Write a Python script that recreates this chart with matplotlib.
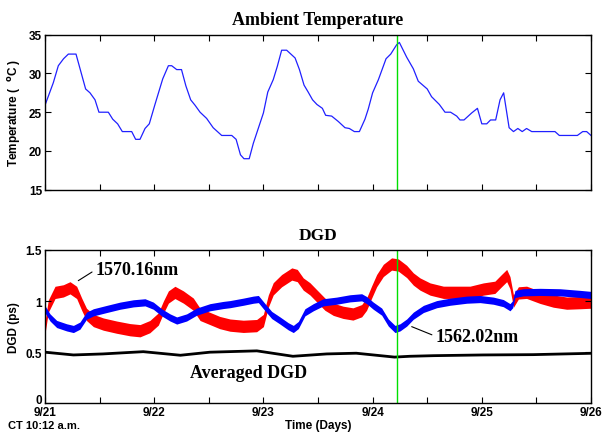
import matplotlib
matplotlib.use("Agg")
import matplotlib.pyplot as plt
import matplotlib.transforms as mtransforms
import numpy as np

# ---- data (days since 9/21 00:00) ----
temp_day = [0.0, 0.076, 0.122, 0.17, 0.214, 0.284, 0.327, 0.372, 0.412, 0.458, 0.494, 0.58, 0.62, 0.665,
            0.708, 0.794, 0.83, 0.87, 0.916, 0.955, 1.007, 1.078, 1.13, 1.16, 1.206, 1.25, 1.29, 1.334,
            1.374, 1.42, 1.48, 1.54, 1.618, 1.71, 1.75, 1.79, 1.822, 1.87, 1.908, 2.0, 2.04, 2.09, 2.127,
            2.167, 2.213, 2.29, 2.33, 2.372, 2.41, 2.45, 2.49, 2.54, 2.57, 2.625, 2.686, 2.747, 2.787,
            2.833, 2.879, 2.93, 2.96, 3.0, 3.053, 3.123, 3.166, 3.22, 3.245, 3.312, 3.373, 3.418, 3.5,
            3.54, 3.611, 3.663, 3.714, 3.77, 3.8, 3.837, 3.907, 3.96, 4.0, 4.045, 4.08, 4.127, 4.167,
            4.2, 4.25, 4.29, 4.33, 4.37, 4.41, 4.457, 4.67, 4.71, 4.875, 4.924, 4.96, 5.0]
temp_c = [25.9, 28.8, 31.0, 31.9, 32.5, 32.5, 30.3, 28.0, 27.5, 26.6, 25.0, 25.0, 24.1, 23.5,
          22.5, 22.5, 21.5, 21.5, 22.9, 23.5, 26.0, 29.3, 31.0, 31.0, 30.5, 30.5, 28.4, 26.6,
          25.9, 25.0, 24.2, 23.0, 22.0, 22.0, 21.5, 19.5, 19.0, 19.0, 21.0, 24.9, 27.6, 29.2, 30.9,
          33.0, 33.0, 32.0, 30.5, 28.5, 27.6, 26.6, 26.0, 25.5, 24.6, 24.5, 23.8, 23.0, 22.9,
          22.5, 22.5, 24.1, 25.4, 27.5, 29.2, 31.9, 32.5, 33.7, 34.0, 32.1, 30.6, 29.0, 28.0,
          27.0, 26.0, 25.0, 25.0, 24.5, 24.0, 24.0, 24.9, 25.5, 23.5, 23.5, 24.0, 24.0, 26.6,
          27.5, 23.0, 22.5, 22.9, 22.5, 22.9, 22.5, 22.5, 22.0, 22.0, 22.5, 22.5, 22.0]

red_day = [0.0, 0.03, 0.092, 0.168, 0.229, 0.29, 0.336, 0.38, 0.443, 0.534, 0.656, 0.778, 0.87, 0.96,
           1.038, 1.084, 1.13, 1.19, 1.267, 1.358, 1.42, 1.51, 1.60, 1.694, 1.816, 1.938, 2.0, 2.045,
           2.09, 2.167, 2.26, 2.31, 2.365, 2.426, 2.487, 2.563, 2.64, 2.73, 2.82, 2.9, 2.945, 2.99,
           3.037, 3.098, 3.174, 3.235, 3.312, 3.373, 3.434, 3.526, 3.648, 3.77, 3.892, 4.014, 4.12,
           4.18, 4.228, 4.258, 4.29, 4.335, 4.41, 4.533, 4.655, 4.777, 4.9, 5.0]
red_dgd = [0.74, 0.95, 1.085, 1.10, 1.13, 1.085, 0.97, 0.87, 0.81, 0.775, 0.745, 0.72, 0.71, 0.75,
           0.825, 0.94, 1.04, 1.085, 1.04, 0.97, 0.87, 0.83, 0.79, 0.765, 0.753, 0.76, 0.81, 1.0,
           1.12, 1.2, 1.265, 1.25, 1.167, 1.12, 1.053, 0.97, 0.92, 0.89, 0.874, 0.906, 0.97, 1.086,
           1.2, 1.30, 1.363, 1.353, 1.29, 1.216, 1.167, 1.118, 1.086, 1.086, 1.086, 1.118, 1.135,
           1.2, 1.25, 1.18, 1.0, 1.08, 1.086, 1.037, 1.0, 0.98, 0.985, 0.99]

blue_day = [0.0, 0.046, 0.107, 0.198, 0.26, 0.32, 0.38, 0.443, 0.565, 0.687, 0.809, 0.916, 0.992,
            1.068, 1.145, 1.206, 1.297, 1.389, 1.511, 1.633, 1.694, 1.816, 1.908, 1.954, 2.015, 2.076,
            2.152, 2.228, 2.274, 2.32, 2.38, 2.457, 2.548, 2.67, 2.792, 2.9, 2.945, 3.006, 3.083,
            3.144, 3.205, 3.251, 3.312, 3.373, 3.465, 3.587, 3.709, 3.862, 3.984, 4.106, 4.197,
            4.258, 4.283, 4.304, 4.38, 4.533, 4.716, 4.9, 5.0]
blue_dgd = [0.92, 0.84, 0.776, 0.743, 0.727, 0.76, 0.857, 0.89, 0.923, 0.955, 0.978, 0.988, 0.955,
            0.89, 0.84, 0.81, 0.84, 0.897, 0.94, 0.962, 0.97, 0.994, 1.014, 1.02, 0.94, 0.864,
            0.81, 0.753, 0.727, 0.766, 0.89, 0.94, 0.988, 1.004, 1.027, 1.037, 1.01, 0.955, 0.897,
            0.79, 0.727, 0.743, 0.79, 0.857, 0.923, 0.97, 0.994, 1.014, 1.02, 1.004, 0.98,
            0.94, 0.97, 1.07, 1.086, 1.09, 1.086, 1.07, 1.06]

avg_day = [0.0, 0.26, 0.53, 0.9, 1.24, 1.51, 1.94, 2.27, 2.58, 2.85, 3.2, 3.34, 3.56, 4.01, 4.47, 5.0]
avg_dgd = [0.5, 0.473, 0.483, 0.505, 0.47, 0.5, 0.513, 0.46, 0.483, 0.49, 0.452, 0.46, 0.466, 0.473,
           0.476, 0.489]

day_labels = ["9/21", "9/22", "9/23", "9/24", "9/25", "9/26"]
marker_day = 3.225

SANS = "Liberation Sans"
SERIF = "Liberation Serif"

fig = plt.figure(figsize=(6.04, 4.35), dpi=100)
ax1 = fig.add_axes([0.0745, 0.5616, 0.904, 0.3563])
ax2 = fig.add_axes([0.0745, 0.0706, 0.904, 0.3524])


def style_axes(ax):
    ax.set_xlim(0, 5)
    ax.set_xticks(np.arange(0, 5.01, 1))
    ax.set_xticks(np.arange(0.5, 5, 1), minor=True)
    ax.tick_params(which="both", direction="in", length=4, width=0.8,
                   top=True, right=True, pad=2)
    for lbl in ax.get_yticklabels() + ax.get_xticklabels():
        lbl.set_fontfamily(SANS)
        lbl.set_fontweight("bold")
        lbl.set_fontsize(8.5)
    for s in ax.spines.values():
        s.set_linewidth(1.0)


# ---- ambient temperature ----
ax1.plot(temp_day, temp_c, color="#2020ff", lw=0.9)
ax1.axvline(marker_day, color="#00e000", lw=1.0)
ax1.set_ylim(15, 35)
ax1.set_yticks([15, 20, 25, 30, 35])
ax1.set_xticklabels([])
style_axes(ax1)
ax1.set_title("Ambient Temperature", fontfamily=SERIF, fontweight="bold",
              fontsize=13, pad=8)
ax1.set_ylabel(r"Temperature (  $^{\mathbf{o}}$C )", fontfamily=SANS,
               fontweight="bold", fontsize=8.5, labelpad=4)

# ---- DGD ----
ax2.fill_between(red_day, np.array(red_dgd) - 0.06, np.array(red_dgd) + 0.06,
                 color="#ff0000", lw=0)
ax2.fill_between(blue_day, np.array(blue_dgd) - 0.035, np.array(blue_dgd) + 0.035,
                 color="#0000ff", lw=0)
ax2.plot(avg_day, avg_dgd, color="black", lw=2.0)
ax2.axvline(marker_day, color="#00e000", lw=1.0)
ax2.set_ylim(0, 1.5)
ax2.set_yticks([0, 0.5, 1, 1.5])
ax2.set_yticklabels(["0", "0.5", "1", "1.5"])
ax2.set_xticklabels(day_labels)
style_axes(ax2)
ax2.tick_params(axis="x", pad=2)
# lift the "0" label so it clears the date labels below it
ax2.get_yticklabels()[0].set_transform(
    ax2.get_yticklabels()[0].get_transform()
    + mtransforms.ScaledTranslation(0, 5 / 100, fig.dpi_scale_trans))
ax2.set_title("DGD", fontfamily=SERIF, fontweight="bold", fontsize=12.5, pad=8)
ax2.set_ylabel("DGD (ps)", fontfamily=SANS, fontweight="bold", fontsize=8.5, labelpad=4)
ax2.set_xlabel("Time (Days)", fontfamily=SANS, fontweight="bold", fontsize=8.5, labelpad=0.5)

# curve annotations
ax2.annotate("1570.16nm", xy=(0.305, 1.2), xytext=(0.467, 1.265),
             fontfamily=SERIF, fontweight="bold", fontsize=13, va="baseline",
             arrowprops=dict(arrowstyle="-", color="black", lw=0.8, shrinkA=1, shrinkB=0,
                             relpos=(0.0, 0.5)))
ax2.annotate("1562.02nm", xy=(3.358, 0.75), xytext=(3.58, 0.61),
             fontfamily=SERIF, fontweight="bold", fontsize=13, va="baseline",
             arrowprops=dict(arrowstyle="-", color="black", lw=0.8, shrinkA=1, shrinkB=0,
                             relpos=(0.0, 0.5)))
ax2.text(1.328, 0.262, "Averaged DGD", fontfamily=SERIF, fontweight="bold", fontsize=13,
         va="baseline")

fig.text(0.013, 0.02, "CT 10:12 a.m.", fontfamily=SANS, fontweight="bold", fontsize=8,
         va="center")

fig.savefig("out.png", dpi=100)
